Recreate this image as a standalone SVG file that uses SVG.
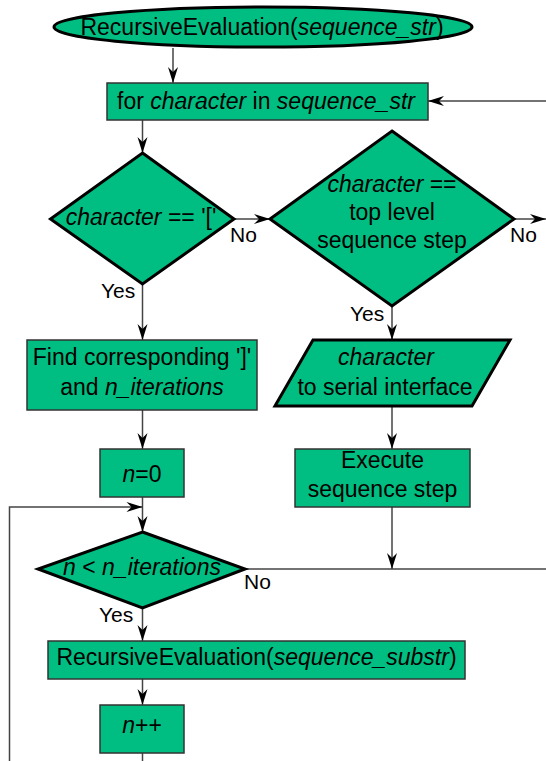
<svg xmlns="http://www.w3.org/2000/svg" width="546" height="761" viewBox="0 0 546 761">
<style>
text{font-family:"Liberation Sans",Arial,sans-serif;font-size:23px;fill:#000}
.c{text-anchor:middle}
.lbl{font-size:21px}
.i{font-style:italic}
.box{fill:#00BE82;stroke:#333;stroke-width:1.5}
.thick{fill:#00BE82;stroke:#000;stroke-width:3;stroke-linejoin:miter}
.ln{fill:none;stroke:#444;stroke-width:1.5}
.arr{marker-end:url(#ah)}
</style>
<defs>
<marker id="ah" markerUnits="userSpaceOnUse" markerWidth="16" markerHeight="10" refX="16" refY="5" orient="auto" overflow="visible">
<path d="M0,0 L16,5 L0,10 L5,5 Z" fill="#000"/>
</marker>
</defs>
<rect width="546" height="761" fill="#fff"/>
<g id="connectors">
<path class="ln arr" d="M173,48 V83"/>
<path class="ln arr" d="M546,101 H428"/>
<path class="ln arr" d="M142.5,120 V153"/>
<path class="ln arr" d="M234,219 H270"/>
<path class="ln arr" d="M514,219 H546"/>
<path class="ln arr" d="M142.5,284 V340"/>
<path class="ln arr" d="M392,306 V340"/>
<path class="ln arr" d="M142.5,410 V449"/>
<path class="ln arr" d="M392,406 V449"/>
<path class="ln arr" d="M142.5,497 V532"/>
<path class="ln arr" d="M9.5,761 V507 H142.5"/>
<path class="ln" d="M245,569 H546"/>
<path class="ln arr" d="M392,507 V569"/>
<path class="ln arr" d="M142.5,608 V641"/>
<path class="ln arr" d="M142.5,679 V705"/>
<path class="ln" d="M142.5,753 V761"/>
</g>
<g id="start">
<ellipse class="thick" cx="263" cy="27" rx="209" ry="20" stroke-width="3.5"/>
<text class="c" x="262" y="35">RecursiveEvaluation(<tspan class="i">sequence_str</tspan>)</text>
</g>
<g id="for-loop">
<rect class="box" x="107" y="83" width="321" height="37"/>
<text class="c" x="266" y="109">for <tspan class="i">character</tspan> in <tspan class="i">sequence_str</tspan></text>
</g>
<g id="dec-bracket">
<polygon class="thick" points="142.5,153 234,219 142.5,284 50.5,219"/>
<text class="c" x="141" y="225"><tspan class="i">character</tspan> == '['</text>
</g>
<g id="dec-step">
<polygon class="thick" points="392,131 514,219 392,306 270,219"/>
<text class="c" x="392" y="192"><tspan class="i">character</tspan> ==</text>
<text class="c" x="392" y="220">top level</text>
<text class="c" x="392" y="248">sequence step</text>
</g>
<g id="find">
<rect class="box" x="27" y="340" width="230" height="70"/>
<text class="c" x="142" y="365">Find corresponding ']'</text>
<text class="c" x="142" y="395">and <tspan class="i">n_iterations</tspan></text>
</g>
<g id="serial">
<polygon class="thick" points="313,340 510,340 472,406 275,406"/>
<text class="c" x="386" y="365" font-style="italic">character</text>
<text class="c" x="385" y="395">to serial interface</text>
</g>
<g id="n-init">
<rect class="box" x="100" y="449" width="84" height="48"/>
<text class="c" x="142" y="482"><tspan class="i">n</tspan>=0</text>
</g>
<g id="execute">
<rect class="box" x="295" y="449" width="175" height="58"/>
<text class="c" x="382.5" y="468">Execute</text>
<text class="c" x="382.5" y="497">sequence step</text>
</g>
<g id="dec-iter">
<polygon class="thick" points="142.5,532 245,569 142.5,608 38,569"/>
<text class="c" x="142" y="575"><tspan class="i">n</tspan> &lt; <tspan class="i">n_iterations</tspan></text>
</g>
<g id="recurse">
<rect class="box" x="48" y="641" width="417" height="38"/>
<text class="c" x="256.5" y="665">RecursiveEvaluation(<tspan class="i">sequence_substr</tspan>)</text>
</g>
<g id="n-inc">
<rect class="box" x="100" y="705" width="84" height="48"/>
<text class="c" x="142" y="733"><tspan class="i">n</tspan>++</text>
</g>
<g id="labels">
<text class="lbl" x="230" y="242">No</text>
<text class="lbl" x="510" y="242">No</text>
<text class="lbl" x="101" y="298">Yes</text>
<text class="lbl" x="350" y="321">Yes</text>
<text class="lbl" x="244" y="589">No</text>
<text class="lbl" x="99" y="622">Yes</text>
</g>
</svg>
